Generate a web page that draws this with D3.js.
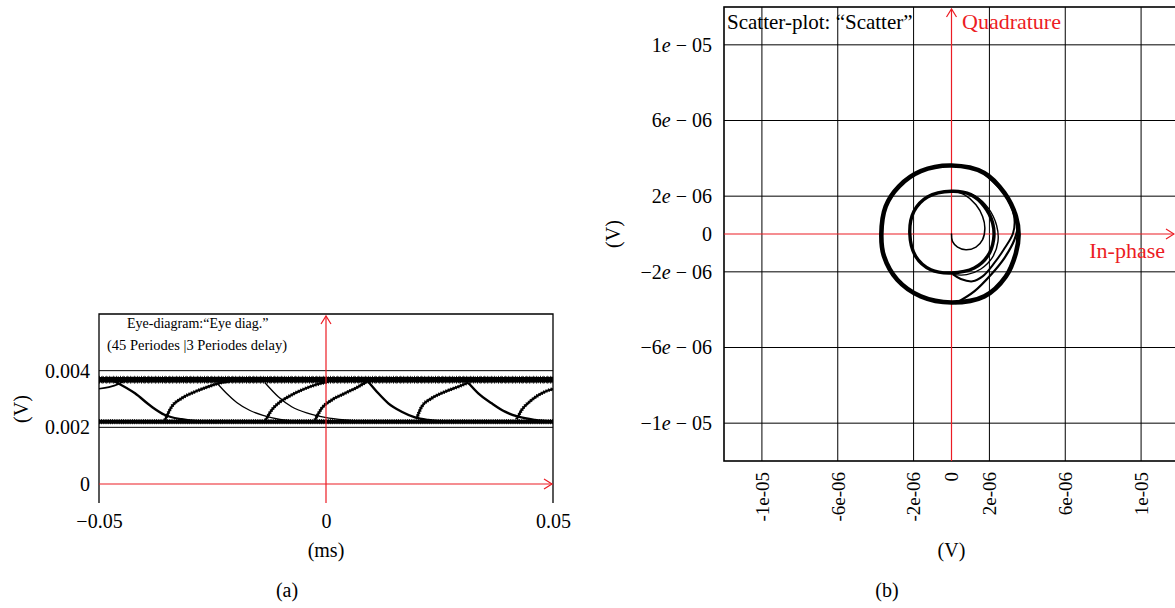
<!DOCTYPE html>
<html><head><meta charset="utf-8">
<script src="https://cdn.jsdelivr.net/npm/d3@7"></script>
<style>
body{margin:0;background:#fff;}
svg{display:block;}
</style>
</head><body>
<svg id="c" width="1175" height="608"></svg>
<script>
// ---------------- Panel (a): eye diagram ----------------
const eyeXTicks = [-0.05, 0, 0.05];
const eyeXLabels = ["\u22120.05", "0", "0.05"];
const eyeYTicks = [0, 0.002, 0.004];
const eyeYLabels = ["0", "0.002", "0.004"];
// traces [time (ms), voltage (V)]
const upperBand = [[-0.05, 0.00368], [0.05, 0.00368]];
const lowerBand = [[-0.05, 0.00220], [0.05, 0.00220]];
const rise0 = [[-0.05, 0.00336], [-0.0478, 0.00342], [-0.0458, 0.00352], [-0.0444, 0.00364]];
const fall1 = [[-0.04685, 0.003646], [-0.04207, 0.003201], [-0.03839, 0.002728], [-0.03546, 0.002435], [-0.03178, 0.002284], [-0.02885, 0.002224], [-0.0240, 0.00219]];
const rise1 = [[-0.03546, 0.002259], [-0.03399, 0.002728], [-0.03178, 0.003025], [-0.02885, 0.003258], [-0.02593, 0.003434], [-0.02372, 0.003554], [-0.02115, 0.003635]];
const fall2 = [[-0.02407, 0.003575], [-0.02187, 0.003194], [-0.01967, 0.002877], [-0.01674, 0.002594], [-0.01388, 0.002418], [-0.01013, 0.002276], [-0.00573, 0.002206]];
const fall3 = [[-0.01344, 0.003575], [-0.01051, 0.003081], [-0.00756, 0.002728], [-0.00390, 0.002495], [-0.00022, 0.002354], [0.00419, 0.002259], [0.0085, 0.00221]];
const rise2 = [[-0.01328, 0.002259], [-0.01196, 0.002612], [-0.01051, 0.002848], [-0.00830, 0.003081], [-0.00535, 0.003318], [-0.00242, 0.003494], [0.00051, 0.003611]];
const rise3 = [[-0.00242, 0.002259], [-0.00095, 0.002672], [0.00126, 0.002965], [0.00419, 0.003201], [0.00711, 0.003434], [0.00932, 0.003646]];
const fall4 = [[0.00932, 0.003611], [0.01152, 0.003201], [0.01372, 0.002848], [0.01667, 0.002552], [0.01960, 0.002354], [0.02253, 0.002259], [0.0270, 0.00220]];
const rise4 = [[0.01998, 0.002319], [0.02108, 0.002728], [0.02328, 0.003025], [0.02621, 0.003258], [0.02914, 0.003434], [0.03134, 0.003575]];
const fall5 = [[0.03134, 0.003575], [0.03354, 0.003201], [0.03650, 0.002848], [0.03943, 0.002552], [0.04236, 0.002375], [0.04604, 0.002259], [0.04971, 0.002199]];
const rise5 = [[0.04200, 0.002284], [0.04311, 0.002612], [0.04531, 0.002965], [0.04751, 0.003201], [0.04971, 0.003342], [0.05, 0.00335]];

// ---------------- Panel (b): scatter plot ----------------
const scTicks = [-1e-5, -6e-6, -2e-6, 0, 2e-6, 6e-6, 1e-5];
const scYLabels = ["\u22121e \u2212 05", "\u22126e \u2212 06", "\u22122e \u2212 06", "0", "2e \u2212 06", "6e \u2212 06", "1e \u2212 05"];
const scXLabels = ["-1e-05", "-6e-06", "-2e-06", "0", "2e-06", "6e-06", "1e-05"];
// trajectory points, in-phase / quadrature (x 1e-6 V)
const spiralStart = [[0, 0], [0.05, -0.39], [0.32, -0.69], [0.76, -0.83], [1.29, -0.69], [1.64, -0.30], [1.76, 0.32], [1.64, 0.93], [1.29, 1.55], [0.67, 2.08], [0, 2.28]];
const innerRing = [[0, 2.26], [1.02, 2.08], [1.73, 1.46], [2.17, 0.58], [2.22, -0.30], [1.90, -1.18], [1.20, -1.80], [0, -2.06], [-1.09, -1.89], [-1.89, -1.18], [-2.20, 0.05], [-1.98, 1.20], [-1.27, 1.96]];
const innerStrand = [[0.4, 2.25], [1.3, 1.98], [1.95, 1.35], [2.38, 0.45], [2.45, -0.40], [2.15, -1.25], [1.55, -1.85], [0.8, -2.15], [0.1, -2.15]];
const innerToOuter = [[0.1, -2.15], [0.49, -2.38], [1.11, -2.50], [1.64, -2.24], [2.26, -1.53], [2.75, -0.83], [3.25, 0.05], [3.3, 0.95], [2.8, 2.1], [1.7, 3.2]];
const outerLink = [[0.23, -3.65], [1.20, -3.03], [2.08, -2.15], [2.79, -1.27], [3.32, -0.30], [3.5, 0.5], [3.3, 1.3]];
const outerRing = [[0, 3.62], [1.73, 3.23], [2.79, 2.17], [3.40, 0.93], [3.54, -0.04], [3.40, -1.0], [2.87, -2.24], [1.73, -3.30], [0, -3.62], [-1.62, -3.30], [-2.86, -2.42], [-3.56, -1.18], [-3.70, 0], [-3.47, 1.46], [-2.77, 2.52], [-1.62, 3.32]];

const FONT = "'Liberation Serif','Times New Roman',serif";
const RED = "#ec1c24";
const svg = d3.select("#c");

function arrowHead(g, x, y, dir) {
  const pts = dir === "up" ? [[x - 5, y + 8], [x, y], [x + 5, y + 8]] : [[x - 8, y - 5], [x, y], [x - 8, y + 5]];
  g.append("path").attr("d", d3.line()(pts)).attr("fill", "none").attr("stroke", RED).attr("stroke-width", 1.2);
}

// ======== Panel (a) ========
{
  const x = d3.scaleLinear().domain([-0.05, 0.05]).range([99, 553]);
  const y = d3.scaleLinear().domain([0, 0.006]).range([484, 314]);
  const yBottom = 503;
  const g = svg.append("g");

  g.selectAll("line.grid").data(eyeYTicks.filter(d => d !== 0)).join("line")
    .attr("x1", x(-0.05)).attr("x2", x(0.05)).attr("y1", d => y(d)).attr("y2", d => y(d))
    .attr("stroke", "#000").attr("stroke-width", 1);

  g.append("path").attr("d", `M${x(-0.05)},${yBottom}V${y(0.006)}H${x(0.05)}V${yBottom}`)
    .attr("fill", "none").attr("stroke", "#000").attr("stroke-width", 1.3);

  const line = d3.line().x(d => x(d[0])).y(d => y(d[1])).curve(d3.curveMonotoneX);
  g.append("clipPath").attr("id", "clipA").append("rect")
    .attr("x", x(-0.05)).attr("y", y(0.006)).attr("width", x(0.05) - x(-0.05)).attr("height", yBottom - y(0.006));
  const tg = g.append("g").attr("clip-path", "url(#clipA)");
  function draw(data, w, jag, dash) {
    tg.append("path").attr("d", line(data)).attr("fill", "none").attr("stroke", "#000").attr("stroke-width", w);
    if (jag) tg.append("path").attr("d", line(data)).attr("fill", "none").attr("stroke", "#000")
      .attr("stroke-width", jag).attr("stroke-dasharray", dash || "1 1.6");
  }
  draw(upperBand, 5.5, 7, "0.8 1.3");
  draw(upperBand, 0, 7.8, "0.6 2.9");
  draw(lowerBand, 4, 5.4, "0.8 1.4");
  draw(rise0, 1.6, 0);
  draw(fall1, 2.4, 0);
  draw(fall2, 1.3, 0);
  draw(fall3, 1.3, 0);
  draw(fall4, 2.4, 0);
  draw(fall5, 2.4, 0);
  [rise1, rise2, rise3, rise4, rise5].forEach(r => draw(r, 2.3, 3.6, "1 1.6"));

  const ra = g.append("g");
  ra.append("line").attr("x1", x(-0.05)).attr("x2", x(0.05) - 1).attr("y1", y(0)).attr("y2", y(0)).attr("stroke", RED).attr("stroke-width", 1.2);
  arrowHead(ra, x(0.05) - 1, y(0), "right");
  ra.append("line").attr("x1", x(0)).attr("x2", x(0)).attr("y1", yBottom).attr("y2", y(0.006) + 2).attr("stroke", RED).attr("stroke-width", 1.2);
  arrowHead(ra, x(0), y(0.006) + 2, "up");

  const yAxis = g.append("g").attr("transform", `translate(${x(-0.05)},0)`)
    .call(d3.axisLeft(y).tickValues(eyeYTicks).tickFormat((d, i) => eyeYLabels[i]).tickSize(0).tickPadding(9));
  yAxis.select(".domain").remove();
  yAxis.attr("font-family", FONT).attr("font-size", 20);
  const xAxis = g.append("g").attr("transform", `translate(0,${yBottom})`)
    .call(d3.axisBottom(x).tickValues(eyeXTicks).tickFormat((d, i) => eyeXLabels[i]).tickSize(0).tickPadding(11));
  xAxis.select(".domain").remove();
  xAxis.attr("font-family", FONT).attr("font-size", 20);

  g.append("text").attr("x", 127).attr("y", 328).attr("font-family", FONT).attr("font-size", 14).text("Eye-diagram:\u201cEye diag.\u201d");
  g.append("text").attr("x", 107).attr("y", 350).attr("font-family", FONT).attr("font-size", 14.5).text("(45 Periodes |3 Periodes delay)");
  g.append("text").attr("transform", "translate(28,409) rotate(-90)").attr("text-anchor", "middle")
    .attr("font-family", FONT).attr("font-size", 20).text("(V)");
  g.append("text").attr("x", x(0)).attr("y", 557).attr("text-anchor", "middle").attr("font-family", FONT).attr("font-size", 20).text("(ms)");
  g.append("text").attr("x", 287).attr("y", 597).attr("text-anchor", "middle").attr("font-family", FONT).attr("font-size", 20).text("(a)");
}

// ======== Panel (b) ========
{
  const x = d3.scaleLinear().domain([-1.2e-5, 1.2e-5]).range([724, 1179]);
  const y = d3.scaleLinear().domain([-1.2e-5, 1.2e-5]).range([461, 7]);
  const g = svg.append("g");
  const inner = scTicks.filter(d => d !== 0);

  g.selectAll("line.vg").data(inner).join("line")
    .attr("x1", d => x(d)).attr("x2", d => x(d)).attr("y1", y(-1.2e-5)).attr("y2", y(1.2e-5))
    .attr("stroke", "#000").attr("stroke-width", 1);
  g.selectAll("line.hg").data(inner).join("line")
    .attr("y1", d => y(d)).attr("y2", d => y(d)).attr("x1", x(-1.2e-5)).attr("x2", x(1.2e-5))
    .attr("stroke", "#000").attr("stroke-width", 1);
  g.append("rect").attr("x", x(-1.2e-5)).attr("y", y(1.2e-5)).attr("width", x(1.2e-5) - x(-1.2e-5)).attr("height", y(-1.2e-5) - y(1.2e-5))
    .attr("fill", "none").attr("stroke", "#000").attr("stroke-width", 1.6);

  const ra = g.append("g");
  ra.append("line").attr("x1", x(-1.2e-5)).attr("x2", 1174).attr("y1", y(0)).attr("y2", y(0)).attr("stroke", RED).attr("stroke-width", 1.2);
  arrowHead(ra, 1174, y(0), "right");
  ra.append("line").attr("x1", x(0)).attr("x2", x(0)).attr("y1", y(-1.2e-5)).attr("y2", 9).attr("stroke", RED).attr("stroke-width", 1.2);
  arrowHead(ra, x(0), 9, "up");

  const u = 1e-6;
  const open = d3.line().x(d => x(d[0] * u)).y(d => y(d[1] * u)).curve(d3.curveCatmullRom);
  const closed = d3.line().x(d => x(d[0] * u)).y(d => y(d[1] * u)).curve(d3.curveCatmullRomClosed);
  const tr = g.append("g").attr("fill", "none").attr("stroke", "#000").attr("stroke-linejoin", "round").attr("stroke-linecap", "round");
  tr.append("path").attr("d", closed(outerRing)).attr("stroke-width", 4.6);
  tr.append("path").attr("d", open(outerLink)).attr("stroke-width", 2.2);
  tr.append("path").attr("d", open(innerToOuter)).attr("stroke-width", 2);
  tr.append("path").attr("d", closed(innerRing)).attr("stroke-width", 3.4);
  tr.append("path").attr("d", open(innerStrand)).attr("stroke-width", 1.4);
  tr.append("path").attr("d", open(spiralStart)).attr("stroke-width", 1.5);

  const yAxis = g.append("g").attr("transform", `translate(${x(-1.2e-5)},0)`)
    .call(d3.axisLeft(y).tickValues(scTicks).tickSize(0).tickPadding(12).tickFormat(() => ""));
  yAxis.select(".domain").remove();
  yAxis.attr("font-family", FONT).attr("font-size", 20);
  yAxis.selectAll(".tick text").each(function (d, i) {
    const t = d3.select(this);
    const s = scYLabels[i];
    const k = s.indexOf("e");
    if (k < 0) { t.text(s); return; }
    t.append("tspan").text(s.slice(0, k));
    t.append("tspan").attr("font-style", "italic").text("e");
    t.append("tspan").text(s.slice(k + 1));
  });
  const xAxis = g.append("g").attr("transform", `translate(0,${y(-1.2e-5)})`)
    .call(d3.axisBottom(x).tickValues(scTicks).tickSize(0).tickFormat((d, i) => scXLabels[i]));
  xAxis.select(".domain").remove();
  xAxis.attr("font-family", FONT).attr("font-size", 19);
  xAxis.selectAll(".tick text").attr("transform", "rotate(-90)").attr("text-anchor", "end")
    .attr("x", -11).attr("y", 0).attr("dy", "0.33em");

  g.append("text").attr("x", 727).attr("y", 29).attr("font-family", FONT).attr("font-size", 21).text("Scatter-plot: \u201cScatter\u201d");
  g.append("text").attr("x", 962).attr("y", 29).attr("font-family", FONT).attr("font-size", 22).attr("fill", RED).text("Quadrature");
  g.append("text").attr("x", 1165).attr("y", 258).attr("text-anchor", "end").attr("font-family", FONT).attr("font-size", 22).attr("fill", RED).text("In-phase");
  g.append("text").attr("transform", "translate(620,234) rotate(-90)").attr("text-anchor", "middle")
    .attr("font-family", FONT).attr("font-size", 20).text("(V)");
  g.append("text").attr("x", x(0)).attr("y", 557).attr("text-anchor", "middle").attr("font-family", FONT).attr("font-size", 20).text("(V)");
  g.append("text").attr("x", 887).attr("y", 597).attr("text-anchor", "middle").attr("font-family", FONT).attr("font-size", 20).text("(b)");
}
</script>
</body></html>
